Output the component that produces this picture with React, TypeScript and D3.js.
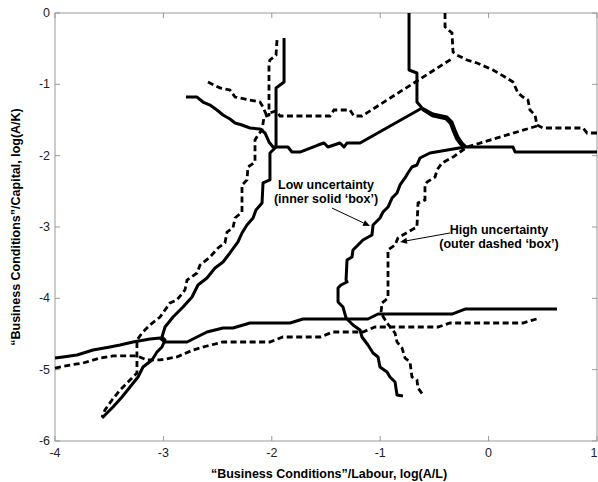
import React from "react";
import * as d3 from "d3";

// ---------- data (log(A/L), log(A/K)) ----------
const xTicks = [-4, -3, -2, -1, 0, 1];
const yTicks = [0, -1, -2, -3, -4, -5, -6];

// Low uncertainty (solid) lines
const solidDiagonal: [number, number][] = [
  [-1.887, -0.35], [-1.887, -0.967], [-1.961, -1.051], [-1.961, -1.879], [-2.017, -1.963],
  [-2.017, -2.341], [-2.081, -2.383], [-2.09, -2.664], [-2.146, -2.762], [-2.173, -2.874],
  [-2.229, -2.972], [-2.275, -3.084], [-2.312, -3.21], [-2.386, -3.364], [-2.45, -3.491],
  [-2.524, -3.575], [-2.598, -3.715], [-2.681, -3.813], [-2.736, -3.981], [-2.819, -4.122],
  [-2.911, -4.262], [-2.985, -4.402], [-3.013, -4.542], [-2.985, -4.585], [-3.013, -4.682],
  [-3.059, -4.752], [-3.105, -4.864], [-3.188, -4.963], [-3.234, -5.103], [-3.308, -5.243],
  [-3.382, -5.383], [-3.465, -5.523], [-3.539, -5.635], [-3.566, -5.678],
];
const solidUpperLeft: [number, number][] = [
  [-2.792, -1.178], [-2.69, -1.178], [-2.635, -1.248], [-2.57, -1.29], [-2.506, -1.36],
  [-2.45, -1.43], [-2.386, -1.486], [-2.339, -1.542], [-2.275, -1.57], [-2.201, -1.612],
  [-2.109, -1.626], [-2.063, -1.682], [-2.026, -1.808], [-1.989, -1.879], [-1.851, -1.879],
  [-1.814, -1.949], [-1.74, -1.949], [-1.574, -1.851], [-1.518, -1.822], [-1.482, -1.879],
  [-1.371, -1.822], [-1.334, -1.879], [-1.306, -1.822], [-1.186, -1.822], [-0.614, -1.332],
];
const solidTop: [number, number][] = [
  [-0.734, 0], [-0.734, -0.799], [-0.661, -0.841], [-0.661, -1.248], [-0.614, -1.332],
];
const solidCornerA: [number, number][] = [
  [-0.614, -1.332], [-0.513, -1.416], [-0.384, -1.458], [-0.338, -1.528], [-0.31, -1.64],
  [-0.282, -1.738], [-0.245, -1.822], [-0.208, -1.879],
];
const solidCornerB: [number, number][] = [
  [-0.614, -1.35], [-0.52, -1.44], [-0.395, -1.482], [-0.352, -1.55], [-0.324, -1.66],
  [-0.296, -1.76], [-0.258, -1.84], [-0.22, -1.879],
];
const solidRight: [number, number][] = [
  [-0.218, -1.879], [0.225, -1.879], [0.244, -1.949], [1.0, -1.949],
];
const solidCentre: [number, number][] = [
  [-0.218, -1.879], [-0.541, -1.963], [-0.633, -2.033], [-0.661, -2.131], [-0.707, -2.159],
  [-0.744, -2.243], [-0.771, -2.313], [-0.817, -2.411], [-0.845, -2.523], [-0.891, -2.594],
  [-0.928, -2.72], [-0.974, -2.79], [-1.002, -2.874], [-1.066, -2.972], [-1.076, -3.112],
  [-1.159, -3.182], [-1.205, -3.252], [-1.251, -3.322], [-1.26, -3.421], [-1.306, -3.463],
  [-1.315, -3.743], [-1.306, -3.771], [-1.362, -3.813], [-1.389, -3.855], [-1.389, -4.051],
  [-1.343, -4.122], [-1.315, -4.276], [-1.251, -4.374], [-1.186, -4.444], [-1.168, -4.542],
  [-1.113, -4.654], [-1.066, -4.766], [-1.02, -4.822], [-1.002, -4.963], [-0.937, -5.033],
  [-0.91, -5.103], [-0.863, -5.173], [-0.845, -5.355], [-0.79, -5.369],
];
const solidLower: [number, number][] = [
  [-4.0, -4.836], [-3.926, -4.822], [-3.797, -4.794], [-3.649, -4.724], [-3.493, -4.682],
  [-3.4, -4.654], [-3.28, -4.612], [-3.124, -4.57], [-3.031, -4.556], [-2.985, -4.612],
  [-2.782, -4.612], [-2.598, -4.472], [-2.45, -4.416], [-2.358, -4.416], [-2.201, -4.346],
  [-1.832, -4.346], [-1.712, -4.29], [-1.113, -4.29], [-1.02, -4.22], [-0.338, -4.22],
  [-0.218, -4.15], [0.631, -4.15],
];

// High uncertainty (dashed) lines
const dashedDiagonal: [number, number][] = [
  [-1.952, -0.379], [-1.961, -0.589], [-2.017, -0.659], [-2.026, -0.701], [-2.026, -1.43],
  [-2.072, -1.458], [-2.09, -1.64], [-2.127, -1.71], [-2.155, -1.78], [-2.155, -2.089],
  [-2.22, -2.159], [-2.229, -2.341], [-2.275, -2.411], [-2.275, -2.79], [-2.339, -2.874],
  [-2.358, -3.014], [-2.413, -3.07], [-2.432, -3.224], [-2.496, -3.294], [-2.57, -3.421],
  [-2.662, -3.533], [-2.69, -3.645], [-2.782, -3.743], [-2.801, -3.883], [-2.875, -4.023],
  [-2.939, -4.065], [-3.031, -4.262], [-3.124, -4.374], [-3.197, -4.486], [-3.244, -4.585],
  [-3.244, -5.047], [-3.308, -5.145], [-3.4, -5.285], [-3.474, -5.425], [-3.539, -5.565],
  [-3.566, -5.664],
];
const dashedUpperLeft: [number, number][] = [
  [-2.589, -0.967], [-2.478, -1.051], [-2.386, -1.079], [-2.339, -1.178], [-2.109, -1.248],
  [-2.081, -1.318], [-2.054, -1.416], [-1.961, -1.374], [-1.924, -1.444], [-1.463, -1.444],
  [-1.426, -1.36], [-1.279, -1.36], [-1.242, -1.444], [-1.168, -1.444], [-0.328, -0.631],
];
const dashedTopRight: [number, number][] = [
  [-0.402, 0], [-0.402, -0.196], [-0.338, -0.28], [-0.328, -0.547], [-0.292, -0.589],
  [-0.199, -0.659], [-0.107, -0.701], [0.041, -0.799], [0.151, -0.897], [0.225, -0.967],
  [0.271, -1.121], [0.317, -1.178], [0.363, -1.22], [0.382, -1.36], [0.428, -1.43],
  [0.446, -1.57], [0.502, -1.612], [0.871, -1.612], [0.908, -1.682], [1.0, -1.682],
];
const dashedCentre: [number, number][] = [
  [0.446, -1.584], [-0.199, -1.879], [-0.328, -2.019], [-0.43, -2.103], [-0.476, -2.201],
  [-0.494, -2.299], [-0.568, -2.369], [-0.587, -2.411], [-0.587, -2.622], [-0.651, -2.664],
  [-0.661, -3.0], [-0.744, -3.07], [-0.836, -3.154], [-0.863, -3.252], [-0.928, -3.322],
  [-0.928, -3.995], [-0.983, -4.065], [-0.993, -4.206], [-0.937, -4.346], [-0.863, -4.486],
  [-0.845, -4.612], [-0.799, -4.696], [-0.771, -4.836], [-0.725, -4.893], [-0.707, -5.103],
  [-0.661, -5.145], [-0.651, -5.257], [-0.605, -5.355],
];
const dashedLower: [number, number][] = [
  [-4.0, -4.977], [-3.862, -4.935], [-3.742, -4.907], [-3.585, -4.836], [-3.465, -4.808],
  [-3.244, -4.808], [-3.151, -4.864], [-3.031, -4.864], [-2.875, -4.822], [-2.727, -4.724],
  [-2.598, -4.668], [-2.45, -4.612], [-2.017, -4.612], [-1.897, -4.542], [-1.555, -4.542],
  [-1.435, -4.472], [-1.159, -4.472], [-1.048, -4.402], [-0.467, -4.402], [-0.356, -4.346],
  [0.317, -4.346], [0.474, -4.276],
];

const solidLines = [solidDiagonal, solidUpperLeft, solidTop, solidCornerA, solidCornerB, solidRight, solidCentre, solidLower];
const dashedLines = [dashedDiagonal, dashedUpperLeft, dashedTopRight, dashedCentre, dashedLower];

// annotations: [text lines], anchor (data), arrow from -> to (data)
const lowLabel = ["Low uncertainty", "(inner solid \u2018box\u2019)"];
const lowLabelAt: [number, number] = [-1.5, -2.47];
const lowArrow: [[number, number], [number, number]] = [[-1.445, -2.734], [-1.094, -2.986]];
const highLabel = ["High uncertainty", "(outer dashed \u2018box\u2019)"];
const highLabelAt: [number, number] = [0.096, -3.1];
const highArrow: [[number, number], [number, number]] = [[-0.356, -3.084], [-0.817, -3.21]];

const xLabel = "\u201cBusiness Conditions\u201d/Labour, log(A/L)";
const yLabel = "\u201cBusiness Conditions\u201d/Capital, log(A/K)";

const W = 598, H = 482;
const M = { left: 55, right: 597, top: 13, bottom: 441 };
const FONT = "'Liberation Sans', Arial, sans-serif";

export default function App() {
  const x = d3.scaleLinear().domain([-4, 1]).range([M.left, M.right]);
  const y = d3.scaleLinear().domain([-6, 0]).range([M.bottom, M.top]);
  const line = d3.line<[number, number]>().x(d => x(d[0])).y(d => y(d[1]));

  const arrowHead = (a: [[number, number], [number, number]]) => {
    const x0 = x(a[0][0]), y0 = y(a[0][1]), x1 = x(a[1][0]), y1 = y(a[1][1]);
    const ang = Math.atan2(y1 - y0, x1 - x0);
    const L = 7, Wd = 3;
    const bx = x1 - L * Math.cos(ang), by = y1 - L * Math.sin(ang);
    const p1 = [bx + Wd * Math.sin(ang), by - Wd * Math.cos(ang)];
    const p2 = [bx - Wd * Math.sin(ang), by + Wd * Math.cos(ang)];
    return (
      <g>
        <line x1={x0} y1={y0} x2={bx} y2={by} stroke="#000" strokeWidth={1} />
        <path d={`M${x1},${y1}L${p1[0]},${p1[1]}L${p2[0]},${p2[1]}Z`} fill="#000" />
      </g>
    );
  };

  return (
    <div style={{ position: "absolute", left: 0, top: 0 }}>
      <svg width={W} height={H} style={{ display: "block", background: "#fff" }}>
        <rect x={0} y={0} width={W} height={H} fill="#fff" />
        {/* frame */}
        <rect x={M.left} y={M.top} width={M.right - M.left} height={M.bottom - M.top}
          fill="none" stroke="#999" strokeWidth={1} />
        {xTicks.map(t => {
          const tx = x(t);
          const edge = tx + 5 > W;
          return (
            <g key={"xt" + t}>
              <line x1={tx} x2={tx} y1={M.bottom} y2={M.bottom - 5} stroke="#999" />
              <line x1={tx} x2={tx} y1={M.top} y2={M.top + 5} stroke="#999" />
              <text x={edge ? W - 0.5 : tx} y={M.bottom + 16} textAnchor={edge ? "end" : "middle"}
                fontFamily={FONT} fontSize={12.5} fill="#222">{t}</text>
            </g>
          );
        })}
        {yTicks.map(t => (
          <g key={"yt" + t}>
            <line x1={M.left} x2={M.left + 5} y1={y(t)} y2={y(t)} stroke="#999" />
            <line x1={M.right} x2={M.right - 5} y1={y(t)} y2={y(t)} stroke="#999" />
            <text x={M.left - 5} y={y(t) + 4} textAnchor="end" fontFamily={FONT} fontSize={12.5} fill="#222">{t}</text>
          </g>
        ))}
        {/* curves */}
        {solidLines.map((d, i) => (
          <path key={"s" + i} d={line(d) || ""} fill="none" stroke="#000" strokeWidth={3} strokeLinejoin="round" />
        ))}
        {dashedLines.map((d, i) => (
          <path key={"d" + i} d={line(d) || ""} fill="none" stroke="#000" strokeWidth={2.8} strokeDasharray="6,3.5" />
        ))}
        {/* annotations */}
        {lowLabel.map((s, i) => (
          <text key={"lo" + i} x={x(lowLabelAt[0])} y={y(lowLabelAt[1]) + i * 14} textAnchor="middle"
            fontFamily={FONT} fontSize={12.5} fontWeight="bold" fill="#000">{s}</text>
        ))}
        {arrowHead(lowArrow)}
        {highLabel.map((s, i) => (
          <text key={"hi" + i} x={x(highLabelAt[0])} y={y(highLabelAt[1]) + i * 14} textAnchor="middle"
            fontFamily={FONT} fontSize={12.5} fontWeight="bold" fill="#000">{s}</text>
        ))}
        {arrowHead(highArrow)}
        {/* axis labels */}
        <text x={329} y={478} textAnchor="middle" fontFamily={FONT} fontSize={12.5} fontWeight="bold">{xLabel}</text>
        <text transform={`translate(20,${(M.top + M.bottom) / 2}) rotate(-90)`} textAnchor="middle"
          fontFamily={FONT} fontSize={12.5} fontWeight="bold">{yLabel}</text>
      </svg>
    </div>
  );
}
